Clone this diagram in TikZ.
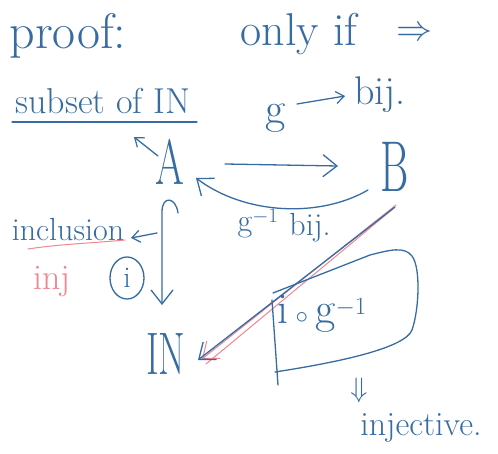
\documentclass[tikz,border=0pt]{standalone}
\usetikzlibrary{arrows.meta,shapes.geometric}
\definecolor{ink}{RGB}{55,108,162}
\definecolor{pinkink}{RGB}{238,135,145}
\begin{document}
\begin{tikzpicture}[x=1pt,y=-1pt,
  hand/.style={text=ink, inner sep=0pt},
  pinkhand/.style={text=pinkink, inner sep=0pt},
  pen/.style={draw=ink, line width=1.3pt, line cap=round, line join=round},
  pinkpen/.style={draw=pinkink, line width=1pt, line cap=round, line join=round},
  tip/.style={-{Straight Barb[length=14pt,width=22pt,line width=1.3pt]}},
  smalltip/.style={-{Straight Barb[length=8pt,width=12pt,line width=1.2pt]}},
  fs/.style={font=\fontsize{#1}{#1}\selectfont}]
\useasboundingbox (0,0) rectangle (498,454);
\fill[white] (0,0) rectangle (498,454);

% heading
\node[hand,fs=50] (proof) at (68,36) {proof:};
\node[hand,fs=46] (onlyif) at (299,34) {only if};
\node[hand,scale=3.6] (implies) at (414,34) {$\Rightarrow$};

% subset of IN
\node[hand,fs=36] (subset) at (103,101) {subset of IN};
\coordinate (ul1) at (12,122);
\coordinate (ul2) at (197,122);
\draw[pen] (ul1) -- (ul2);

% A and B
\node[hand,fs=64,xscale=0.65] (A) at (170,162) {A};
\node[hand,fs=72,xscale=0.6] (B) at (395,167) {B};
\node[hand,fs=60,xscale=0.64] (IN) at (166,354) {IN};

% A -> subset
\coordinate (aup1) at (158,156);
\coordinate (aup2) at (134,137);
\draw[pen,smalltip] (aup1) -- (aup2);

% g over the arrow
\node[hand,fs=44] (g) at (276,118) {g};
\node[hand,fs=40] (bij1) at (380,95) {bij.};
\coordinate (gs) at (297,104);
\coordinate (ge) at (345,96);
\draw[pen,smalltip] (gs) -- (ge);

% A -> B
\coordinate (ab1) at (225,164);
\coordinate (ab2) at (338,166);
\draw[pen,tip] (ab1) -- (ab2);

% B -> A curved (g^{-1})
\coordinate (ba1) at (368,190);
\coordinate (ba2) at (196,178);
\draw[pen,tip] (ba1) .. controls (320,218) and (245,215) .. (ba2);
\node[hand,fs=32] (ginv) at (258,224) {g$^{-1}$};
\node[hand,fs=32] (bij2) at (310,228) {bij.};

% inclusion arrow A -> IN
\coordinate (h1) at (178,213);
\coordinate (h2) at (162,305);
\draw[pen,tip] (h1) .. controls (176,197) and (162,195) .. (162,212) -- (h2);

\node[hand,fs=32] (incl) at (68,230) {inclusion};
\coordinate (in1) at (157,233);
\coordinate (in2) at (131,238);
\draw[pen,smalltip] (in1) -- (in2);
\coordinate (pu1) at (28,249);
\coordinate (pu2) at (125,240);
\draw[pinkpen] (pu1) .. controls (60,244) and (95,243) .. (pu2);
\node[pinkhand,fs=36] (inj) at (52,282) {inj};
\node[draw=ink, line width=1.3pt, ellipse, minimum width=34pt, minimum height=42pt, text=ink, inner sep=0pt, fs=30] (icirc) at (127,278) {i};

% B -> IN diagonal
\coordinate (d1) at (395,207);
\coordinate (d2) at (198,360);
\draw[pinkpen,-{Straight Barb[length=14pt,width=22pt,line width=1pt]}] ([xshift=1pt,yshift=2pt]d1) -- ([xshift=4pt,yshift=1pt]d2);
\draw[pinkpen] ([xshift=-1pt,yshift=-1pt]d1) -- ([xshift=8pt,yshift=-4pt]d2);
\draw[pen,tip] (d1) -- (d2);

% box around i o g^{-1}
\coordinate (bx1) at (273,293);
\coordinate (bx2) at (272,300);
\coordinate (bx3) at (278,385);
\draw[pen] (275,372) .. controls (340,362) and (405,348) .. (412,330)
  .. controls (419,310) and (421,268) .. (412,256)
  .. controls (404,246) and (390,250) .. (370,255) -- (bx1);
\draw[pen] (bx2) -- (bx3);
\node[hand,fs=44] (comp) at (322,314) {i\,$\circ$\,g$^{-1}$};

% conclusion
\node[hand,scale=2.8] (dn) at (359,390) {$\Downarrow$};
\node[hand,fs=34] (injective) at (421,428) {injective.};
\end{tikzpicture}
\end{document}
